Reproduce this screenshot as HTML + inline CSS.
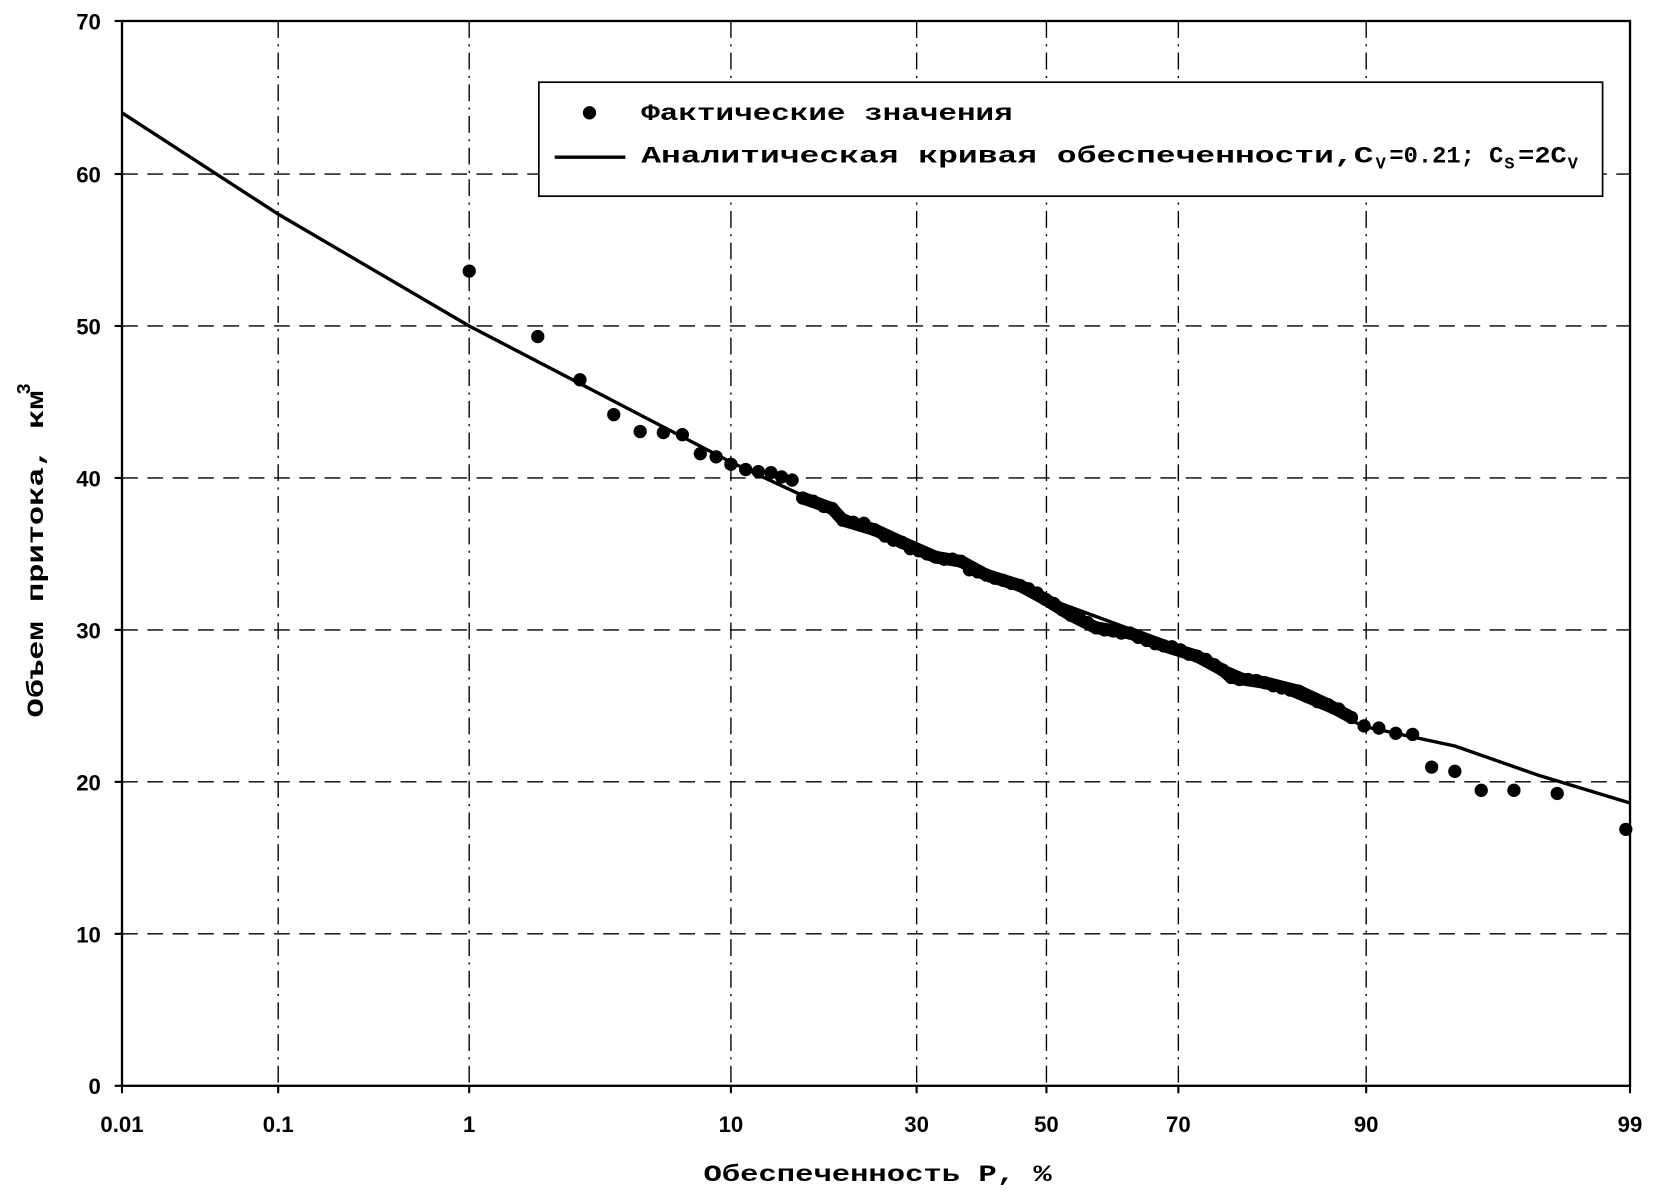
<!DOCTYPE html>
<html><head><meta charset="utf-8"><style>html,body{margin:0;padding:0;background:#fff}svg{display:block}</style></head>
<body>
<svg width="1654" height="1197" viewBox="0 0 1654 1197" xmlns="http://www.w3.org/2000/svg">
<g transform="matrix(1.0553,0,0,1.0553,-1.47,-0.106)">
<g stroke="#000" stroke-width="1.3" stroke-dasharray="15,9" fill="none">
<line x1="117" y1="165" x2="1546" y2="165"/><line x1="117" y1="309" x2="1546" y2="309"/>
<line x1="117" y1="453" x2="1546" y2="453"/><line x1="117" y1="597" x2="1546" y2="597"/>
<line x1="117" y1="741" x2="1546" y2="741"/><line x1="117" y1="885" x2="1546" y2="885"/>
</g>
<g stroke="#000" stroke-width="1.3" stroke-dasharray="16,6,2,6" fill="none">
<line x1="265" y1="20" x2="265" y2="1029"/><line x1="446" y1="20" x2="446" y2="1029"/>
<line x1="694" y1="20" x2="694" y2="1029"/><line x1="870" y1="20" x2="870" y2="1029"/>
<line x1="993" y1="20" x2="993" y2="1029"/><line x1="1118" y1="20" x2="1118" y2="1029"/>
<line x1="1296" y1="20" x2="1296" y2="1029"/>
</g>
<rect x="117" y="20" width="1429" height="1009" fill="none" stroke="#000" stroke-width="2.2"/>
<g stroke="#000" stroke-width="2">
<line x1="110" y1="20" x2="117" y2="20"/><line x1="110" y1="165" x2="117" y2="165"/><line x1="110" y1="309" x2="117" y2="309"/><line x1="110" y1="453" x2="117" y2="453"/><line x1="110" y1="597" x2="117" y2="597"/><line x1="110" y1="741" x2="117" y2="741"/><line x1="110" y1="885" x2="117" y2="885"/><line x1="110" y1="1029" x2="117" y2="1029"/>
<line x1="117" y1="1029" x2="117" y2="1036"/><line x1="265" y1="1029" x2="265" y2="1036"/><line x1="446" y1="1029" x2="446" y2="1036"/><line x1="694" y1="1029" x2="694" y2="1036"/><line x1="870" y1="1029" x2="870" y2="1036"/><line x1="993" y1="1029" x2="993" y2="1036"/><line x1="1118" y1="1029" x2="1118" y2="1036"/><line x1="1296" y1="1029" x2="1296" y2="1036"/><line x1="1546" y1="1029" x2="1546" y2="1036"/>
</g>
<g font-family="Liberation Sans, Arial, sans-serif" font-weight="bold" font-size="21" fill="#000">
<g text-anchor="end">
<text x="97" y="28">70</text><text x="97" y="173">60</text><text x="97" y="317">50</text><text x="97" y="461">40</text><text x="97" y="605">30</text><text x="97" y="749">20</text><text x="97" y="893">10</text><text x="97" y="1037">0</text>
</g>
<g text-anchor="middle">
<text x="117" y="1073">0.01</text><text x="265" y="1073">0.1</text><text x="446" y="1073">1</text><text x="694" y="1073">10</text><text x="870" y="1073">30</text><text x="993" y="1073">50</text><text x="1118" y="1073">70</text><text x="1296" y="1073">90</text><text x="1546" y="1073">99</text>
</g>
</g>
<g font-family="Liberation Mono, Courier New, monospace" font-weight="bold" fill="#000">
<text x="668" y="1119" font-size="22" textLength="330" lengthAdjust="spacingAndGlyphs">Обеспеченность Р, %</text>
<text transform="translate(42,680) rotate(-90)" font-size="22" textLength="310" lengthAdjust="spacingAndGlyphs">Объем притока, км</text>
<text transform="translate(30,374) rotate(-90)" font-size="18">3</text>
</g>
<polyline fill="none" stroke="#000" stroke-width="3.2" stroke-linejoin="round" points="117,107 265,203 446,309 694,438 870,520 993,567 1118,613 1296,689 1380,707 1460,735 1546,761"/>
<polyline fill="none" stroke="#000" stroke-width="12" stroke-linejoin="round" stroke-linecap="round" points="762,472 790,482 800,493 830,502 856,514 888,528 912,532 936,545 968,555 992,568 1016,583 1040,595 1072,600 1104,612 1136,622 1160,635 1168,642 1200,647 1232,655 1260,668 1282,680"/>
<g fill="#000">
<circle cx="446" cy="257" r="6.3"/><circle cx="511" cy="319" r="6.3"/><circle cx="551" cy="360" r="6.3"/><circle cx="583" cy="393" r="6.3"/><circle cx="608" cy="409" r="6.3"/><circle cx="630" cy="410" r="6.3"/><circle cx="648" cy="412" r="6.3"/><circle cx="665" cy="430" r="6.3"/><circle cx="680" cy="433" r="6.3"/><circle cx="694" cy="440" r="6.3"/><circle cx="708" cy="445" r="6.3"/><circle cx="720" cy="447" r="6.3"/><circle cx="732" cy="448" r="6.3"/><circle cx="742" cy="452" r="6.3"/><circle cx="752" cy="455" r="6.3"/><circle cx="762" cy="472" r="6.3"/><circle cx="772" cy="475" r="6.3"/><circle cx="782" cy="480" r="6.3"/><circle cx="790" cy="482" r="6.3"/><circle cx="800" cy="493" r="6.3"/><circle cx="810" cy="495" r="6.3"/><circle cx="820" cy="496" r="6.3"/><circle cx="830" cy="502" r="6.3"/><circle cx="840" cy="508" r="6.3"/><circle cx="848" cy="512" r="6.3"/><circle cx="856" cy="514" r="6.3"/><circle cx="864" cy="520" r="6.3"/><circle cx="872" cy="522" r="6.3"/><circle cx="880" cy="525" r="6.3"/><circle cx="888" cy="528" r="6.3"/><circle cx="896" cy="530" r="6.3"/><circle cx="904" cy="530" r="6.3"/><circle cx="912" cy="532" r="6.3"/><circle cx="920" cy="540" r="6.3"/><circle cx="928" cy="542" r="6.3"/><circle cx="936" cy="545" r="6.3"/><circle cx="944" cy="548" r="6.3"/><circle cx="952" cy="550" r="6.3"/><circle cx="960" cy="553" r="6.3"/><circle cx="968" cy="555" r="6.3"/><circle cx="976" cy="558" r="6.3"/><circle cx="984" cy="562" r="6.3"/><circle cx="992" cy="568" r="6.3"/><circle cx="1000" cy="572" r="6.3"/><circle cx="1008" cy="578" r="6.3"/><circle cx="1016" cy="583" r="6.3"/><circle cx="1024" cy="585" r="6.3"/><circle cx="1032" cy="590" r="6.3"/><circle cx="1040" cy="595" r="6.3"/><circle cx="1048" cy="597" r="6.3"/><circle cx="1056" cy="598" r="6.3"/><circle cx="1064" cy="600" r="6.3"/><circle cx="1072" cy="600" r="6.3"/><circle cx="1080" cy="604" r="6.3"/><circle cx="1088" cy="607" r="6.3"/><circle cx="1096" cy="610" r="6.3"/><circle cx="1104" cy="612" r="6.3"/><circle cx="1112" cy="613" r="6.3"/><circle cx="1120" cy="616" r="6.3"/><circle cx="1128" cy="620" r="6.3"/><circle cx="1136" cy="622" r="6.3"/><circle cx="1144" cy="625" r="6.3"/><circle cx="1152" cy="630" r="6.3"/><circle cx="1160" cy="635" r="6.3"/><circle cx="1168" cy="642" r="6.3"/><circle cx="1176" cy="644" r="6.3"/><circle cx="1184" cy="644" r="6.3"/><circle cx="1192" cy="645" r="6.3"/><circle cx="1200" cy="647" r="6.3"/><circle cx="1208" cy="650" r="6.3"/><circle cx="1216" cy="652" r="6.3"/><circle cx="1224" cy="654" r="6.3"/><circle cx="1232" cy="655" r="6.3"/><circle cx="1240" cy="660" r="6.3"/><circle cx="1250" cy="665" r="6.3"/><circle cx="1260" cy="668" r="6.3"/><circle cx="1270" cy="672" r="6.3"/><circle cx="1282" cy="680" r="6.3"/><circle cx="1294" cy="688" r="6.3"/><circle cx="1308" cy="690" r="6.3"/><circle cx="1324" cy="695" r="6.3"/><circle cx="1340" cy="696" r="6.3"/><circle cx="1358" cy="727" r="6.3"/><circle cx="1380" cy="731" r="6.3"/><circle cx="1405" cy="749" r="6.3"/><circle cx="1436" cy="749" r="6.3"/><circle cx="1477" cy="752" r="6.3"/><circle cx="1542" cy="786" r="6.3"/>
</g>
<rect x="512" y="78" width="1008" height="108" fill="#fff" stroke="#000" stroke-width="1.6"/>
<circle cx="560" cy="107" r="6.3" fill="#000"/>
<line x1="527" y1="149" x2="594" y2="149" stroke="#000" stroke-width="3.2"/>
<g font-family="Liberation Mono, Courier New, monospace" font-weight="bold" fill="#000" font-size="22">
<text x="609" y="114" textLength="352" lengthAdjust="spacingAndGlyphs">Фактические значения</text>
<text x="609" y="154" textLength="694" lengthAdjust="spacingAndGlyphs">Аналитическая кривая обеспеченности,C</text>
<text x="1305" y="160" font-size="16">V</text>
<text x="1318" y="154" textLength="108" lengthAdjust="spacingAndGlyphs">=0.21; C</text>
<text x="1427" y="160" font-size="16">S</text>
<text x="1440" y="154" textLength="46" lengthAdjust="spacingAndGlyphs">=2C</text>
<text x="1487" y="160" font-size="16">V</text>
</g>
</g>
</svg>
</body></html>
